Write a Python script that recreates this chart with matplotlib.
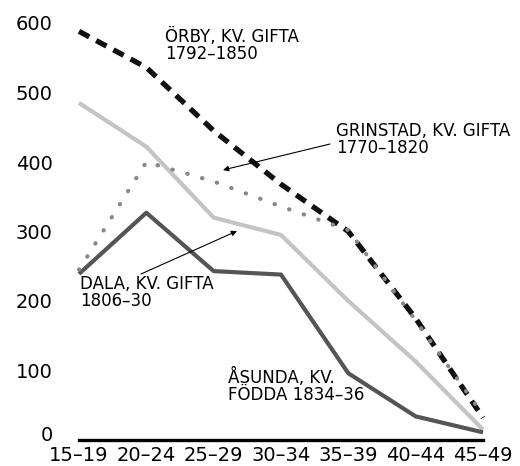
import matplotlib.pyplot as plt
import matplotlib.transforms as mtransforms

plt.rcParams['font.family'] = ['DejaVu Sans']

age_groups = ["15–19", "20–24", "25–29", "30–34", "35–39", "40–44", "45–49"]
orby = [588, 536, 445, 368, 300, 175, 32]
grinstad = [245, 400, 372, 336, 302, 172, 36]
dala = [485, 422, 320, 295, 200, 113, 15]
asunda = [239, 327, 243, 238, 96, 34, 11]

fig = plt.figure(figsize=(5.2, 4.66), dpi=100)
ax = fig.add_axes([79 / 520, 26 / 466, 404 / 520, 417 / 466])

x = range(len(age_groups))
ax.plot(x, dala, color="#c4c4c4", linewidth=3.0, solid_capstyle="butt", clip_on=False)
ax.plot(x, asunda, color="#555555", linewidth=3.0, solid_capstyle="butt", clip_on=False)
ax.plot(x, orby, color="#111111", linewidth=3.8, linestyle=(0, (2.2, 1.5)),
        dash_capstyle="butt", clip_on=False)
# dotted series sits on top of the dashed one, as in the original
ax.plot(x, grinstad, color="#888888", linewidth=3.0, linestyle=(0, (0.1, 3.6)),
        dash_capstyle="round", clip_on=False)

ax.set_xlim(0, len(age_groups) - 1)
ax.set_ylim(0, 600)
ax.set_xticks(list(x))
ax.set_xticklabels(age_groups, fontsize=14)
ax.set_yticks([0, 100, 200, 300, 400, 500, 600])
ax.tick_params(axis="y", length=0, pad=19, labelsize=14)
ax.tick_params(axis="x", length=0, pad=4)
for s in ["top", "right", "left"]:
    ax.spines[s].set_visible(False)
ax.spines["bottom"].set_linewidth(2.4)
ax.spines["bottom"].set_color("black")

# lift the "0" label a little so it sits above the x labels
fig.canvas.draw()
zero_lbl = ax.get_yticklabels()[0]
zero_lbl.set_transform(zero_lbl.get_transform() +
                       mtransforms.ScaledTranslation(0, 5 / 72, fig.dpi_scale_trans))

fs = 12
arrow = dict(arrowstyle="-|>", color="black", lw=0.8,
             shrinkA=0, shrinkB=0, mutation_scale=8)

fig.text(165 / 520, 438 / 466, "ÖRBY, KV. GIFTA\n1792–1850",
         fontsize=fs, va="top", ha="left", linespacing=0.95)
fig.text(336 / 520, 344 / 466, "GRINSTAD, KV. GIFTA\n1770–1820",
         fontsize=fs, va="top", ha="left", linespacing=0.95)
fig.text(80 / 520, 191 / 466, "DALA, KV. GIFTA\n1806–30",
         fontsize=fs, va="top", ha="left", linespacing=0.95)
fig.text(228 / 520, 98 / 466, "ÅSUNDA, KV.\nFÖDDA 1834–36",
         fontsize=fs, va="top", ha="left", linespacing=0.95)

ax.annotate("", xy=(223, 296), xycoords="figure pixels",
            xytext=(330, 322), textcoords="figure pixels", arrowprops=arrow)
ax.annotate("", xy=(237, 235), xycoords="figure pixels",
            xytext=(141, 192), textcoords="figure pixels", arrowprops=arrow)

fig.savefig("out.png", dpi=100)
